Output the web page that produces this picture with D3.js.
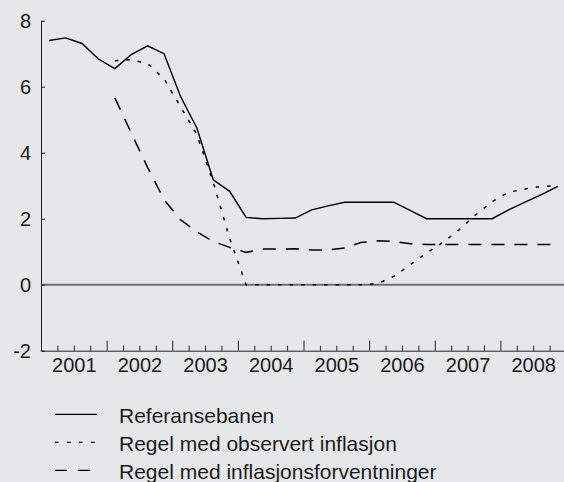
<!DOCTYPE html>
<html>
<head>
<meta charset="utf-8">
<script src="https://cdn.jsdelivr.net/npm/d3@7"></script>
<style>
  body { margin: 0; background: #e6e7e9; }
  svg { display: block; }
  text { font-family: Arial, "Liberation Sans", sans-serif; fill: #1a1a1a; }
</style>
</head>
<body>
<svg id="display" width="564" height="482"></svg>
<script>
'use strict';
//data
var YEARS = [2001, 2002, 2003, 2004, 2005, 2006, 2007, 2008];
var Y_TICKS = [-2, 0, 2, 4, 6, 8];
var SERIES_NAMES = ['Referansebanen', 'Regel med observert inflasjon', 'Regel med inflasjonsforventninger'];

// quarterly values, 2001 K1 .. 2008 K4
var referanse = [7.40, 7.48, 7.31, 6.84, 6.55, 6.97, 7.24, 7.00,
  5.71, 4.75, 3.18, 2.83, 2.04, 2.00, 2.01, 2.02,
  2.27, 2.39, 2.50, 2.50, 2.50, 2.50, 2.25, 2.00,
  2.00, 2.00, 2.00, 2.00, 2.27, 2.50, 2.73, 2.98];
var observert = [null, null, null, null, 6.79, 6.82, 6.70, 6.24,
  5.40, 4.55, 3.10, 1.40, 0, 0, 0, 0,
  0, 0, 0, 0, 0.03, 0.25, 0.60, 0.96,
  1.28, 1.67, 2.12, 2.52, 2.80, 2.90, 2.98, 3.00];
var forventninger = [null, null, null, null, 5.66, 4.60, 3.55, 2.58,
  1.97, 1.60, 1.31, 1.13, 0.98, 1.08, 1.08, 1.09,
  1.05, 1.05, 1.11, 1.28, 1.33, 1.31, 1.24, 1.22,
  1.22, 1.22, 1.22, 1.22, 1.22, 1.22, 1.22, 1.22];

//constants
var MARGINS = { left: 41, right: 566, top: 20.7, bottom: 350.7 };
var DASHES = ['none', '3.5,8', '13,10'];
var LEGEND_DASHES = ['none', '3.5,8.5', '12,11'];

var svg = d3.select('#display');

var x = d3.scaleLinear()
  .domain([YEARS[0], YEARS[YEARS.length - 1] + 1])
  .range([MARGINS.left, MARGINS.right]);
var y = d3.scaleLinear()
  .domain([-2, 8])
  .range([MARGINS.bottom, MARGINS.top]);

function quarterTime(i) {
  return YEARS[0] + (i + 0.5) / 4;
}

var yearBounds = d3.range(YEARS[0] + 1, YEARS[YEARS.length - 1] + 2);
var quarterBounds = d3.range(0, YEARS.length * 4 + 1)
  .map(function(i) { return YEARS[0] + i / 4; })
  .filter(function(t) { return t % 1 !== 0; });

// zero line
svg.append('line')
  .attr('x1', x(YEARS[0]))
  .attr('x2', 564)
  .attr('y1', y(0))
  .attr('y2', y(0))
  .attr('stroke', '#707070')
  .attr('stroke-width', 2);

// y axis
var yAxis = svg.append('g')
  .attr('transform', 'translate(' + MARGINS.left + ',0)')
  .call(d3.axisLeft(y).tickValues(Y_TICKS).tickSizeInner(-4).tickSizeOuter(0).tickPadding(10)
    .tickFormat(function(d) { return String(d); }));
yAxis.selectAll('text').style('font-size', '20px').attr('fill', '#1a1a1a');

// x axis: minor, major ticks and labels
var xMinor = svg.append('g')
  .attr('transform', 'translate(0,' + MARGINS.bottom + ')')
  .call(d3.axisBottom(x).tickValues(quarterBounds).tickSizeInner(-5).tickSizeOuter(0).tickFormat(''));
var xMajor = svg.append('g')
  .attr('transform', 'translate(0,' + MARGINS.bottom + ')')
  .call(d3.axisBottom(x).tickValues(yearBounds).tickSizeInner(-10).tickSizeOuter(0).tickFormat(''));
xMajor.select('.domain').remove();
var xLabels = svg.append('g')
  .attr('transform', 'translate(0,' + MARGINS.bottom + ')')
  .call(d3.axisBottom(x)
    .tickValues(YEARS.map(function(yr) { return yr + 0.5; }))
    .tickSize(0).tickPadding(7)
    .tickFormat(function(d) { return String(Math.floor(d)); }));
xLabels.select('.domain').remove();
xLabels.selectAll('text').style('font-size', '20px').attr('fill', '#1a1a1a');

svg.selectAll('.domain, .tick line').attr('stroke', '#222').attr('stroke-width', 1);

// lines
var svgLine = d3.line()
  .defined(function(d) { return d.v !== null; })
  .x(function(d) { return x(d.t); })
  .y(function(d) { return y(d.v); });

[referanse, observert, forventninger].forEach(function(series, i) {
  var pts = series.map(function(v, k) { return { t: quarterTime(k), v: v }; });
  svg.append('path')
    .attr('d', svgLine(pts))
    .attr('fill', 'none')
    .attr('stroke', '#000')
    .attr('stroke-width', i === 0 ? 1.4 : 1.5)
    .attr('stroke-dasharray', DASHES[i]);
});

// legend
var legend = svg.append('g');
SERIES_NAMES.forEach(function(name, i) {
  var ly = 414.3 + i * 28;
  legend.append('line')
    .attr('x1', 55).attr('x2', 97)
    .attr('y1', ly).attr('y2', ly)
    .attr('stroke', '#000')
    .attr('stroke-width', 1.3)
    .attr('stroke-dasharray', LEGEND_DASHES[i]);
  legend.append('text')
    .attr('x', 119)
    .attr('y', ly + 8.5)
    .style('font-size', '21px')
    .text(name);
});
</script>
</body>
</html>
